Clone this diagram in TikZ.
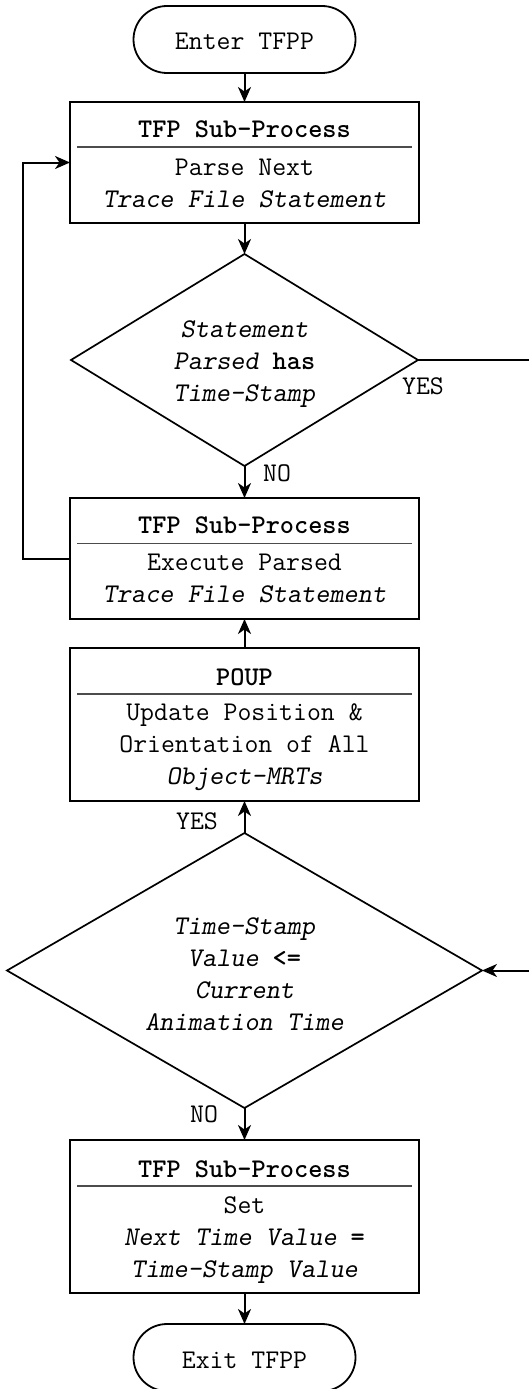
\documentclass[tikz,border=0pt]{standalone}
\usepackage{fontspec}
\usetikzlibrary{arrows.meta,shapes.geometric,shapes.misc}
\begin{document}
\begin{tikzpicture}[x=1pt,y=-1pt,
  font={\ttfamily\fontsize{27}{32}\selectfont},
  box/.style={draw,line width=2.1pt,minimum width=349pt,inner sep=0pt,outer sep=0pt},
  term/.style={draw,line width=1.8pt,rounded rectangle,minimum width=222pt,minimum height=67pt,inner sep=0pt,outer sep=0pt},
  decision/.style={draw,line width=1.7pt,diamond,inner sep=0pt,outer sep=0pt},
  txt/.style={anchor=base,align=center,inner sep=0pt},
  sep/.style={draw=black!70,line width=1.2pt},
  flow/.style={line width=2pt,-{Stealth[length=15pt,width=13pt,inset=4.5pt]}},
  link/.style={line width=2pt},
  lbl/.style={anchor=base,inner sep=0pt},
]
\useasboundingbox (0,0) rectangle (529,1389);

% start terminal
\node[term] (enter) at (244.5,39.5) {};
\node[txt] (enterT) at (244.5,50) {Enter TFPP};

% parse next statement (multi-line texts are placed by their last baseline)
\node[box,minimum height=121pt] (b1) at (244.5,162.5) {};
\node[txt] (b1T) at (244.5,137) {\textbf{TFP Sub-Process}};
\draw[sep] ([xshift=7pt,yshift=-45pt]b1.north west) -- ([xshift=-7pt,yshift=-45pt]b1.north east);
\node[txt] (b1B) at (244.5,207) {Parse Next\\\textsl{Trace File Statement}};

% time-stamp test
\node[decision,minimum width=347pt,minimum height=212pt] (d1) at (244.5,360) {};
\node[txt] (d1T) at (244.5,401) {\textsl{Statement}\\\textsl{Parsed} \textbf{has}\\\textsl{Time-Stamp}};

% execute statement
\node[box,minimum height=121pt] (b2) at (244.5,558.5) {};
\node[txt] (b2T) at (244.5,533) {\textbf{TFP Sub-Process}};
\draw[sep] ([xshift=7pt,yshift=-45.5pt]b2.north west) -- ([xshift=-7pt,yshift=-45.5pt]b2.north east);
\node[txt] (b2B) at (244.5,602) {Execute Parsed\\\textsl{Trace File Statement}};

% position / orientation update
\node[box,minimum height=153pt] (b3) at (244.5,724.5) {};
\node[txt] (b3T) at (244.5,685) {\textbf{POUP}};
\draw[sep] ([xshift=7pt,yshift=-46pt]b3.north west) -- ([xshift=-7pt,yshift=-46pt]b3.north east);
\node[txt] (b3B) at (244.5,784) {Update Position \&\\Orientation of All\\\textsl{Object-MRTs}};

% animation time test
\node[decision,minimum width=475pt,minimum height=275pt] (d2) at (244.5,970.5) {};
\node[txt] (d2T) at (244.5,1030) {\textsl{Time-Stamp}\\\textsl{Value} \textbf{<=}\\\textsl{Current}\\\textsl{Animation Time}};

% next time value
\node[box,minimum height=153pt] (b4) at (244.5,1216.5) {};
\node[txt] (b4T) at (244.5,1177) {\textbf{TFP Sub-Process}};
\draw[sep] ([xshift=7pt,yshift=-46pt]b4.north west) -- ([xshift=-7pt,yshift=-46pt]b4.north east);
\node[txt] (b4B) at (244.5,1277) {Set\\\textsl{Next Time Value} \textbf{=}\\\textsl{Time-Stamp Value}};

% exit terminal
\node[term] (exit) at (244.5,1357.5) {};
\node[txt] (exitT) at (244.5,1368) {Exit TFPP};

% free ends at the right margin
\coordinate (yesOut) at (529,360);
\coordinate (timeIn) at (529,970.5);

% connectors
\draw[flow] (enter) -- (b1);
\draw[flow] (b1) -- (d1);
\draw[flow] (d1) -- (b2);
\draw[flow] (b3) -- (b2);
\draw[flow] (d2) -- (b3);
\draw[flow] (d2) -- (b4);
\draw[flow] (b4) -- (exit);
\draw[flow] (b2.west) -- (23,558.5) -- (23,162.5) -- (b1.west);
\draw[link] (d1.east) -- (yesOut);
\draw[flow] (timeIn) -- (d2.east);

% branch labels
\node[lbl] (yes1) at (423,394) {YES};
\node[lbl] (no1) at (277,481) {NO};
\node[lbl] (yes2) at (197,829) {YES};
\node[lbl] (no2) at (204,1122) {NO};
\end{tikzpicture}
\end{document}
